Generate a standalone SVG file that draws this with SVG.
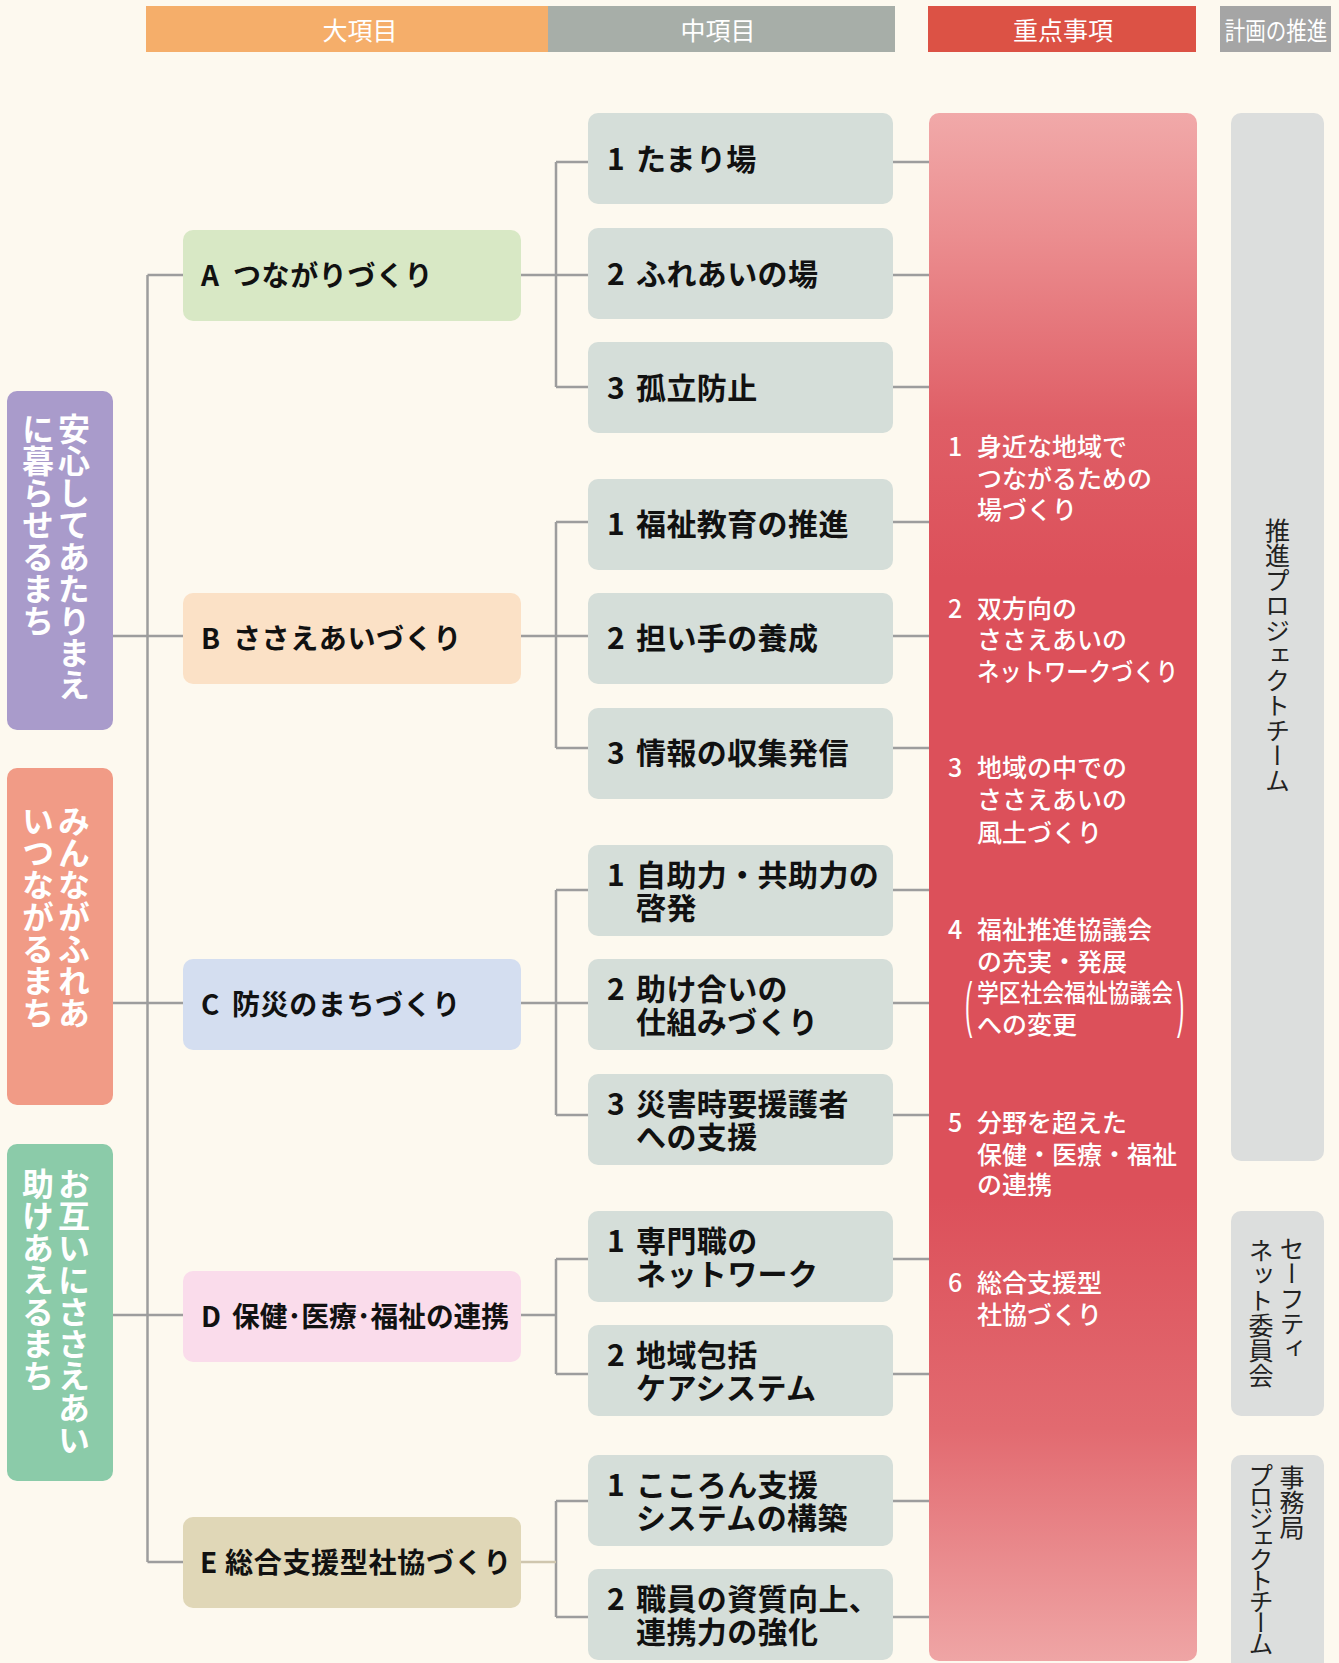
<svg xmlns="http://www.w3.org/2000/svg" width="1339" height="1663" viewBox="0 0 1339 1663">
<defs>
<linearGradient id="redg" gradientUnits="userSpaceOnUse" x1="0" y1="113" x2="0" y2="1661">
<stop offset="0" stop-color="#F1A9A9"/>
<stop offset="0.08" stop-color="#EB8D8F"/>
<stop offset="0.2" stop-color="#DF5E66"/>
<stop offset="0.3" stop-color="#DC505A"/>
<stop offset="0.7" stop-color="#DC505A"/>
<stop offset="0.85" stop-color="#E26A70"/>
<stop offset="1" stop-color="#EFA5A5"/>
</linearGradient>
<style>
.hd{font-family:"Noto Sans CJK JP","Noto Sans",sans-serif;font-size:25px;fill:#fff;text-anchor:middle}
.cat{font-family:"Noto Sans CJK JP",sans-serif;font-size:32px;font-weight:bold;fill:#fff;writing-mode:vertical-rl}
.big{font-family:"Noto Sans CJK JP",sans-serif;font-size:28px;font-weight:bold;fill:#111;letter-spacing:0.6px}
.mid{font-family:"Noto Sans CJK JP",sans-serif;font-size:30px;font-weight:bold;fill:#111;letter-spacing:0.4px}
.red{font-family:"Noto Sans CJK JP",sans-serif;font-size:25px;font-weight:500;fill:#fff}
.par{font-family:"Liberation Sans",sans-serif;font-size:22px;fill:#fff}
.vr{font-family:"Noto Sans CJK JP",sans-serif;font-size:25px;fill:#222;writing-mode:vertical-rl}
.conn{stroke:#9D9D9D;stroke-width:2.5;fill:none}
.mbox{fill:#D5DED9}
.gbox{fill:#DCDEDD}
</style>
</defs>
<rect x="0" y="0" width="1339" height="1663" fill="#FDF9EF"/>

<g id="headers">
<rect x="146" y="6" width="402" height="46" fill="#F5AE6A"/>
<rect x="548" y="6" width="347" height="46" fill="#A7AEA8"/>
<rect x="928" y="6" width="268" height="46" fill="#DC5245"/>
<rect x="1220" y="6" width="111" height="46" fill="#A5A5A5"/>
<text class="hd" x="360" y="40">大項目</text>
<text class="hd" x="718" y="40">中項目</text>
<text class="hd" x="1063" y="40">重点事項</text>
<text class="hd" transform="translate(1276,40) scale(0.82,1)" x="0" y="0">計画の推進</text>
</g>

<g id="connectors">
<path class="conn" d="M147.5,275 V1562"/>
<path class="conn" d="M147.5,275 H183 M113,636 H183 M113,1003 H183 M113,1315 H183 M147.5,1562 H183"/>
<path class="conn" d="M521,275 H556 M556,162 V387 M556,162 H588 M556,275 H588 M556,387 H588"/>
<path class="conn" d="M521,636 H556 M556,522 V748 M556,522 H588 M556,636 H588 M556,748 H588"/>
<path class="conn" d="M521,1003 H556 M556,890 V1115 M556,890 H588 M556,1003 H588 M556,1115 H588"/>
<path class="conn" d="M521,1315 H556 M556,1259 V1374 M556,1259 H588 M556,1374 H588"/>
<path class="conn" d="M556,1501 V1617 M556,1501 H588 M556,1617 H588"/>
<path d="M521,1562 H556" stroke="#CFC6AE" stroke-width="2.5"/>
<path class="conn" d="M893,162 H929 M893,275 H929 M893,387 H929 M893,522 H929 M893,636 H929 M893,748 H929 M893,890 H929 M893,1003 H929 M893,1115 H929 M893,1259 H929 M893,1374 H929 M893,1501 H929 M893,1617 H929"/>
</g>

<g id="cat-1">
<rect x="7" y="391" width="106" height="339" rx="10" fill="#A99BCB"/>
<text class="cat" x="74" y="413">安心してあたりまえ</text>
<text class="cat" x="38" y="413">に暮らせるまち</text>
</g>
<g id="cat-2">
<rect x="7" y="768" width="106" height="337" rx="10" fill="#F19B86"/>
<text class="cat" x="74" y="805">みんながふれあ</text>
<text class="cat" x="38" y="805">いつながるまち</text>
</g>
<g id="cat-3">
<rect x="7" y="1144" width="106" height="337" rx="10" fill="#8BCBA9"/>
<text class="cat" x="74" y="1168">お互いにささえあい</text>
<text class="cat" x="38" y="1168">助けあえるまち</text>
</g>

<g id="big-A">
<rect x="183" y="230" width="338" height="91" rx="10" fill="#D8E8C5"/>
<text class="big" y="286"><tspan x="201">A</tspan><tspan x="233">つながりづくり</tspan></text>
</g>
<g id="big-B">
<rect x="183" y="593" width="338" height="91" rx="10" fill="#FBE1C6"/>
<text class="big" y="649"><tspan x="201">B</tspan><tspan x="233">ささえあいづくり</tspan></text>
</g>
<g id="big-C">
<rect x="183" y="959" width="338" height="91" rx="10" fill="#D4DEF0"/>
<text class="big" y="1015"><tspan x="201">C</tspan><tspan x="232">防災のまちづくり</tspan></text>
</g>
<g id="big-D">
<rect x="183" y="1271" width="338" height="91" rx="10" fill="#FADCEB"/>
<text class="big" y="1327" style="letter-spacing:0"><tspan x="201">D</tspan><tspan x="232" textLength="277" lengthAdjust="spacingAndGlyphs">保健･医療･福祉の連携</tspan></text>
</g>
<g id="big-E">
<rect x="183" y="1517" width="338" height="91" rx="10" fill="#E0D7B7"/>
<text class="big" y="1573"><tspan x="200">E</tspan><tspan x="225" textLength="287" lengthAdjust="spacingAndGlyphs">総合支援型社協づくり</tspan></text>
</g>

<g id="mid-A1"><rect class="mbox" x="588" y="113" width="305" height="91" rx="10"/>
<text class="mid" y="170"><tspan x="607">1</tspan><tspan x="636">たまり場</tspan></text></g>
<g id="mid-A2"><rect class="mbox" x="588" y="228" width="305" height="91" rx="10"/>
<text class="mid" y="285"><tspan x="607">2</tspan><tspan x="636">ふれあいの場</tspan></text></g>
<g id="mid-A3"><rect class="mbox" x="588" y="342" width="305" height="91" rx="10"/>
<text class="mid" y="399"><tspan x="607">3</tspan><tspan x="636">孤立防止</tspan></text></g>

<g id="mid-B1"><rect class="mbox" x="588" y="479" width="305" height="91" rx="10"/>
<text class="mid" y="535"><tspan x="607">1</tspan><tspan x="636">福祉教育の推進</tspan></text></g>
<g id="mid-B2"><rect class="mbox" x="588" y="593" width="305" height="91" rx="10"/>
<text class="mid" y="649"><tspan x="607">2</tspan><tspan x="636">担い手の養成</tspan></text></g>
<g id="mid-B3"><rect class="mbox" x="588" y="708" width="305" height="91" rx="10"/>
<text class="mid" y="764"><tspan x="607">3</tspan><tspan x="636">情報の収集発信</tspan></text></g>

<g id="mid-C1"><rect class="mbox" x="588" y="845" width="305" height="91" rx="10"/>
<text class="mid" y="886"><tspan x="607">1</tspan><tspan x="636">自助力・共助力の</tspan><tspan x="636" y="919">啓発</tspan></text></g>
<g id="mid-C2"><rect class="mbox" x="588" y="959" width="305" height="91" rx="10"/>
<text class="mid" y="1000"><tspan x="607">2</tspan><tspan x="636">助け合いの</tspan><tspan x="636" y="1033">仕組みづくり</tspan></text></g>
<g id="mid-C3"><rect class="mbox" x="588" y="1074" width="305" height="91" rx="10"/>
<text class="mid" y="1115"><tspan x="607">3</tspan><tspan x="636">災害時要援護者</tspan><tspan x="636" y="1148">への支援</tspan></text></g>

<g id="mid-D1"><rect class="mbox" x="588" y="1211" width="305" height="91" rx="10"/>
<text class="mid" y="1252"><tspan x="607">1</tspan><tspan x="636">専門職の</tspan><tspan x="636" y="1285">ネットワーク</tspan></text></g>
<g id="mid-D2"><rect class="mbox" x="588" y="1325" width="305" height="91" rx="10"/>
<text class="mid" y="1366"><tspan x="607">2</tspan><tspan x="636">地域包括</tspan><tspan x="636" y="1399">ケアシステム</tspan></text></g>

<g id="mid-E1"><rect class="mbox" x="588" y="1455" width="305" height="91" rx="10"/>
<text class="mid" y="1496"><tspan x="607">1</tspan><tspan x="636">こころん支援</tspan><tspan x="636" y="1529">システムの構築</tspan></text></g>
<g id="mid-E2"><rect class="mbox" x="588" y="1569" width="305" height="91" rx="10"/>
<text class="mid" y="1610"><tspan x="607">2</tspan><tspan x="636">職員の資質向上、</tspan><tspan x="636" y="1643">連携力の強化</tspan></text></g>

<g id="priorities">
<rect x="929" y="113" width="268" height="1548" rx="10" fill="url(#redg)"/>
<text class="red" y="456"><tspan x="948">1</tspan><tspan x="977">身近な地域で</tspan><tspan x="977" y="488">つながるための</tspan><tspan x="977" y="519">場づくり</tspan></text>
<text class="red" y="618"><tspan x="948">2</tspan><tspan x="977">双方向の</tspan><tspan x="977" y="649">ささえあいの</tspan></text>
<text class="red" x="977" y="681" textLength="201" lengthAdjust="spacingAndGlyphs">ネットワークづくり</text>
<text class="red" y="777"><tspan x="948">3</tspan><tspan x="977">地域の中での</tspan><tspan x="977" y="809">ささえあいの</tspan><tspan x="977" y="842">風土づくり</tspan></text>
<text class="red" y="939"><tspan x="948">4</tspan><tspan x="977">福祉推進協議会</tspan><tspan x="977" y="971">の充実・発展</tspan></text>
<text class="red" x="977" y="1002" textLength="196" lengthAdjust="spacingAndGlyphs">学区社会福祉協議会</text>
<text class="red" x="977" y="1034">への変更</text>
<text class="par" transform="translate(965,1025) scale(1,2.8)" x="0" y="0">(</text>
<text class="par" transform="translate(1177,1025) scale(1,2.8)" x="0" y="0">)</text>
<text class="red" y="1132"><tspan x="948">5</tspan><tspan x="977">分野を超えた</tspan><tspan x="977" y="1164">保健・医療・福祉</tspan><tspan x="977" y="1194">の連携</tspan></text>
<text class="red" y="1292"><tspan x="948">6</tspan><tspan x="977">総合支援型</tspan><tspan x="977" y="1324">社協づくり</tspan></text>
</g>

<g id="team-1">
<rect class="gbox" x="1231" y="113" width="93" height="1048" rx="10"/>
<text class="vr" x="1277.5" y="518">推進プロジェクトチーム</text>
</g>
<g id="team-2">
<rect class="gbox" x="1231" y="1211" width="93" height="205" rx="10"/>
<text class="vr" x="1292" y="1236">セーフティ</text>
<text class="vr" x="1261" y="1238">ネット委員会</text>
</g>
<g id="team-3">
<rect class="gbox" x="1231" y="1455" width="93" height="230" rx="10"/>
<text class="vr" x="1292" y="1465">事務局</text>
<text class="vr" x="1261" y="1463" letter-spacing="-4">プロジェクトチーム</text>
</g>
</svg>
